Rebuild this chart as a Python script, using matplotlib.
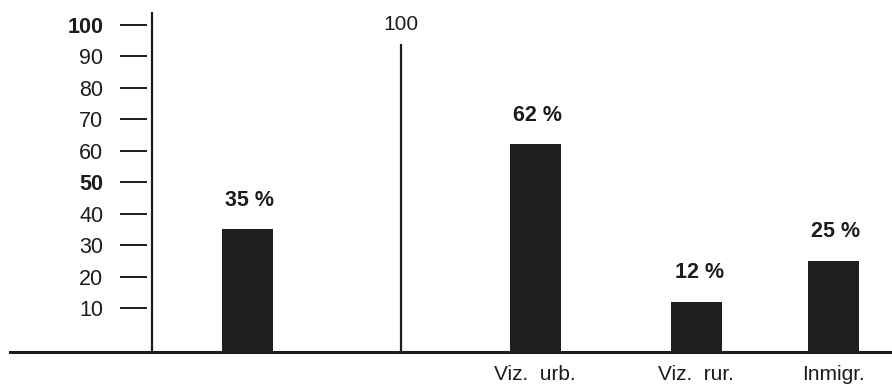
import matplotlib.pyplot as plt
import numpy as np

plt.rcParams['font.family'] = ['Liberation Sans', 'DejaVu Sans']

# data
categories = ['', 'Viz.  urb.', 'Viz.  rur.', 'Inmigr.']
values = [35, 62, 12, 25]
yticks = [10, 20, 30, 40, 50, 60, 70, 80, 90, 100]
bold_ticks = [50, 100]
mid_label = '100'

# layout (x in bar units)
xpos = [0, 2.0, 3.12, 4.07]
x_axis = -0.66
x_mid = 1.07
base = -4.0
ink = '#1c1c1c'
bar_col = '#1d201d'

fig = plt.figure(figsize=(8.92, 3.86), dpi=100)
ax = fig.add_axes([10/892, 34/386, 882/892, 340/386])
ax.set_xlim(-1.646, 4.479)
ax.set_ylim(base, 104.1)

ax.bar(xpos, np.array(values) - base, bottom=base, width=0.354, color=bar_col)

for x, v in zip(xpos, values):
    ax.annotate(f'{v} %', (x, v), xytext=(2, 21), textcoords='offset points',
                ha='center', va='center', fontsize=15.5, fontweight='bold', color=ink)

# axes lines
ax.axvline(x_axis, color=ink, lw=1.6)
ax.vlines(x_mid, base, 93.8, color=ink, lw=1.6)
ax.text(x_mid, 100, mid_label, ha='center', va='center', fontsize=15, color=ink)

for s in ['top', 'right']:
    ax.spines[s].set_visible(False)
ax.spines['bottom'].set_linewidth(2.2)
ax.spines['bottom'].set_color(ink)
ax.spines['bottom'].set_position(('data', base))
ax.spines['left'].set_position(('data', -0.694))
ax.spines['left'].set_edgecolor('none')

ax.set_yticks(yticks)
ax.set_yticklabels([str(t) for t in yticks])
for lab, t in zip(ax.get_yticklabels(), yticks):
    if t in bold_ticks:
        lab.set_fontweight('bold')
ax.tick_params(axis='y', direction='out', length=19.4, width=1.4, pad=12,
               labelsize=15.5, color=ink, labelcolor=ink)

ax.set_xticks(xpos[1:])
ax.set_xticklabels(categories[1:])
ax.tick_params(axis='x', length=0, pad=9, labelsize=15, labelcolor=ink)

fig.savefig('out.png', dpi=100)
